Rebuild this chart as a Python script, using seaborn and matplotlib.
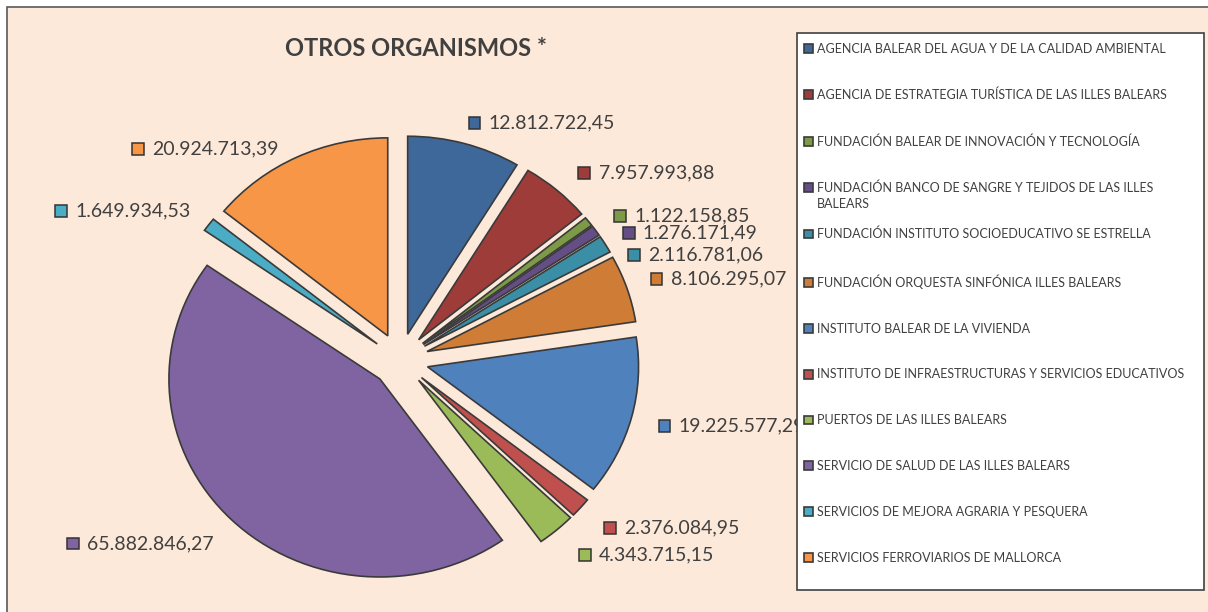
import matplotlib
matplotlib.use("Agg")
import matplotlib.pyplot as plt
import seaborn as sns
import numpy as np
from matplotlib.patches import Rectangle
from matplotlib.offsetbox import DrawingArea, TextArea, HPacker, AnnotationBbox

# ---------------- data ----------------
categories = [
    "AGENCIA BALEAR DEL AGUA Y DE LA CALIDAD AMBIENTAL",
    "AGENCIA DE ESTRATEGIA TURÍSTICA DE LAS ILLES BALEARS",
    "FUNDACIÓN BALEAR DE INNOVACIÓN Y TECNOLOGÍA",
    "FUNDACIÓN BANCO DE SANGRE Y TEJIDOS DE LAS ILLES\nBALEARS",
    "FUNDACIÓN INSTITUTO SOCIOEDUCATIVO SE ESTRELLA",
    "FUNDACIÓN ORQUESTA SINFÓNICA ILLES BALEARS",
    "INSTITUTO BALEAR DE LA VIVIENDA",
    "INSTITUTO DE INFRAESTRUCTURAS Y SERVICIOS EDUCATIVOS",
    "PUERTOS DE LAS ILLES BALEARS",
    "SERVICIO DE SALUD DE LAS ILLES BALEARS",
    "SERVICIOS DE MEJORA AGRARIA Y PESQUERA",
    "SERVICIOS FERROVIARIOS DE MALLORCA",
]
values = [
    12812722.45, 7957993.88, 1122158.85, 1276171.49, 2116781.06, 8106295.07,
    19225577.29, 2376084.95, 4343715.15, 65882846.27, 1649934.53, 20924713.39,
]
title = "OTROS ORGANISMOS *"

# ---------------- style ----------------
colors = ["#3E689A", "#9E3C3A", "#7D9A47", "#654E86", "#3A8EA6", "#CF7C36",
          "#4F81BD", "#C0504D", "#9BBB59", "#8064A2", "#4BACC6", "#F79646"]
# label centre offsets (pixels) from each wedge's outer mid point
label_offsets = [(77, 20.5), (89, 17.5), (93, 5.5), (94, -2.5), (90, -10.5), (91, 9.5),
                 (100, -9), (91, -20.5), (90, -24.5), (-91, -24), (-86, 13.5), (-92, 8.5)]

sns.set_theme(style="white")
plt.rcParams["font.family"] = ["Lato", "DejaVu Sans"]
TXT = "#404040"
W, H = 1208, 612

def es_fmt(v):
    s = f"{v:,.2f}"
    return s.replace(",", "X").replace(".", ",").replace("X", ".")

fig = plt.figure(figsize=(W / 100, H / 100), dpi=100, facecolor="white")

# chart area background
fig.patches.append(Rectangle((7 / W, -8 / H), (1220 - 7) / W, (H - 7 + 8) / H,
                             transform=fig.transFigure, facecolor="#FDE9D9",
                             edgecolor="#595959", linewidth=1.2, zorder=-5))

# pie axes (slightly elliptical like the original)
cx, cy, Rx, Ry, L = 400, 360, 211, 198, 1.5
aw, ah = 2 * L * Rx, 2 * L * Ry
ax = fig.add_axes([(cx - aw / 2) / W, ((H - cy) - ah / 2) / H, aw / W, ah / H])
ax.set_facecolor("none")

wedges, _ = ax.pie(values, colors=colors, startangle=90, counterclock=False,
                   explode=[0.135] * len(values),
                   wedgeprops=dict(edgecolor="#3a3a3a", linewidth=1.2))
ax.set_aspect("auto")
ax.set_xlim(-L, L)
ax.set_ylim(-L, L)
ax.axis("off")

for w, v, col, (dx, dy) in zip(wedges, values, colors, label_offsets):
    mid = np.deg2rad((w.theta1 + w.theta2) / 2)
    ex, ey = w.center
    px, py = ex + w.r * np.cos(mid), ey + w.r * np.sin(mid)
    da = DrawingArea(9.5, 9.5, 0, 0)
    da.add_artist(Rectangle((0.5, 0.5), 8.5, 8.5, facecolor=col,
                            edgecolor="#333333", linewidth=1.1))
    ta = TextArea(es_fmt(v), textprops=dict(color=TXT, fontsize=14))
    box = HPacker(children=[da, ta], align="center", pad=0, sep=5.5)
    ab = AnnotationBbox(box, (px, py), xybox=(dx, dy), xycoords="data",
                        boxcoords="offset pixels", frameon=False,
                        box_alignment=(0.5, 0.5), annotation_clip=False)
    ax.add_artist(ab)

fig.text(416 / W, 1 - 48 / H, title, ha="center", va="center",
         fontsize=17, fontweight="bold", color=TXT)

# legend box
fig.patches.append(Rectangle((797 / W, 1 - 590 / H), 407 / W, 557 / H,
                             transform=fig.transFigure, facecolor="white",
                             edgecolor="#404040", linewidth=1.2, zorder=4))
first_lines = [c.split("\n")[0] for c in categories]
leg = fig.legend(wedges, first_lines, loc="upper left",
                 bbox_to_anchor=(797 / W, 1 - 36 / H),
                 borderaxespad=0, fontsize=9, labelcolor=TXT,
                 labelspacing=2.71, handlelength=0.72, handleheight=0.72,
                 handletextpad=0.3, borderpad=0.55, frameon=False)
leg.set_zorder(5)

# wrapped continuation lines of long legend entries
fig.canvas.draw()
for t, c in zip(leg.get_texts(), categories):
    rest = c.split("\n")[1:]
    if rest:
        bb = t.get_window_extent()
        ymid = (bb.y0 + bb.y1) / 2
        for k, line in enumerate(rest, start=1):
            fig.text(bb.x0 / W, (ymid - 16 * k) / H, line, ha="left", va="center",
                     fontsize=9, color=TXT, zorder=6)

fig.savefig("out.png", dpi=100, facecolor=fig.get_facecolor())
